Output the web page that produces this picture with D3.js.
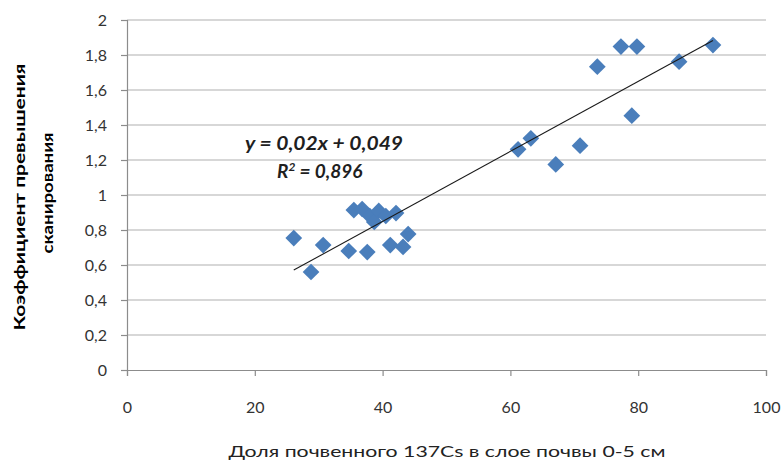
<!DOCTYPE html>
<html>
<head>
<meta charset="utf-8">
<script src="https://cdn.jsdelivr.net/npm/d3@7"></script>
<style>
  html, body { margin: 0; padding: 0; background: #fff; }
  svg { display: block; }
  text { font-family: Lato, "Open Sans", "Liberation Sans", sans-serif; }
</style>
</head>
<body>
<svg id="chart" width="784" height="462"></svg>
<script>
// ---- Data ----
const xValues = [26.1, 28.8, 30.7, 34.7, 37.6, 35.5, 36.8, 38.0, 38.7, 39.4, 40.5, 42.1, 41.2, 43.2, 44.0,
                 61.2, 63.2, 67.1, 70.9, 73.6, 77.3, 79.8, 79.0, 86.4, 91.7];
const yValues = [0.754, 0.56, 0.714, 0.68, 0.674, 0.914, 0.92, 0.88, 0.846, 0.909, 0.88, 0.897, 0.714, 0.703, 0.777,
                 1.261, 1.324, 1.175, 1.282, 1.733, 1.848, 1.848, 1.453, 1.762, 1.857];
const xTicks = [0, 20, 40, 60, 80, 100];
const yTicks = [0, 0.2, 0.4, 0.6, 0.8, 1, 1.2, 1.4, 1.6, 1.8, 2];
const trendSlope = 0.02, trendIntercept = 0.049;
const equationText = "y = 0,02x + 0,049";
const r2Value = "0,896";
const xTitle = "Доля почвенного  137Cs в слое почвы  0-5 см";
const yTitleLines = ["Коэффициент превышения", "сканирования"];

const svg = d3.select("#chart");
const x = d3.scaleLinear().domain([0, 100]).range([127, 766]);
const y = d3.scaleLinear().domain([0, 2]).range([370, 20]);
const fmt = v => String(+v.toFixed(1)).replace(".", ",");

// gridlines
svg.append("g").selectAll("line").data(yTicks.filter(d => d > 0)).join("line")
  .attr("x1", x(0)).attr("x2", x(100))
  .attr("y1", d => y(d)).attr("y2", d => y(d))
  .attr("stroke", "#b0b0b0").attr("stroke-width", 1.2);

// y axis
const yAxis = svg.append("g").attr("transform", `translate(${x(0)},0)`)
  .call(d3.axisLeft(y).tickValues(yTicks).tickFormat(fmt).tickSize(6).tickPadding(14));
// x axis
const xAxis = svg.append("g").attr("transform", `translate(0,${y(0)})`)
  .call(d3.axisBottom(x).tickValues(xTicks).tickSize(6).tickPadding(26));
[yAxis, xAxis].forEach(a => {
  a.select(".domain").attr("stroke", "#8c8c8c").attr("stroke-width", 1.2);
  a.selectAll(".tick line").attr("stroke", "#8c8c8c").attr("stroke-width", 1.2);
  a.selectAll(".tick text").attr("fill", "#333").style("font-size", "16px")
    .style("font-family", "Lato, 'Open Sans', sans-serif");
});

// points (rotated squares = diamonds)
const data = xValues.map((v, i) => [v, yValues[i]]);
svg.append("g").selectAll("path").data(data).join("path")
  .attr("d", d3.symbol().type(d3.symbolSquare).size(140))
  .attr("transform", d => `translate(${x(d[0])},${y(d[1])}) rotate(45)`)
  .attr("fill", "#4a7ebb");

// trendline
const xMin = d3.min(xValues), xMax = d3.max(xValues);
svg.append("line")
  .attr("x1", x(xMin)).attr("y1", y(trendSlope * xMin + trendIntercept))
  .attr("x2", x(xMax)).attr("y2", y(trendSlope * xMax + trendIntercept))
  .attr("stroke", "#1a1a1a").attr("stroke-width", 1.1);

// equation
svg.append("text").attr("x", 324).attr("y", 150).attr("text-anchor", "middle")
  .style("font-size", "18px").style("font-weight", "bold").style("font-style", "italic")
  .attr("fill", "#1f1f1f").attr("textLength", 158).attr("lengthAdjust", "spacingAndGlyphs")
  .text(equationText);
const r2 = svg.append("text").attr("x", 277).attr("y", 178).attr("text-anchor", "start")
  .style("font-size", "19px").style("font-weight", "bold").style("font-style", "italic")
  .attr("fill", "#1f1f1f");
r2.append("tspan").text("R");
r2.append("tspan").attr("dy", -7).style("font-size", "12px").text("2");
r2.append("tspan").attr("dy", 7).text(" = " + r2Value);

// axis titles
svg.append("text").attr("x", 447).attr("y", 457).attr("text-anchor", "middle")
  .style("font-size", "16px").attr("fill", "#222")
  .attr("textLength", 437).attr("lengthAdjust", "spacingAndGlyphs")
  .text(xTitle);

const yLens = [267, 121];
const yCenters = [197, 193];
const yXs = [25, 53];
yTitleLines.forEach((t, i) => {
  svg.append("text")
    .attr("transform", `translate(${yXs[i]},${yCenters[i]}) rotate(-90)`)
    .attr("text-anchor", "middle")
    .style("font-size", "16px").style("font-weight", "bold").attr("fill", "#000")
    .attr("textLength", yLens[i]).attr("lengthAdjust", "spacingAndGlyphs")
    .text(t);
});
</script>
</body>
</html>
